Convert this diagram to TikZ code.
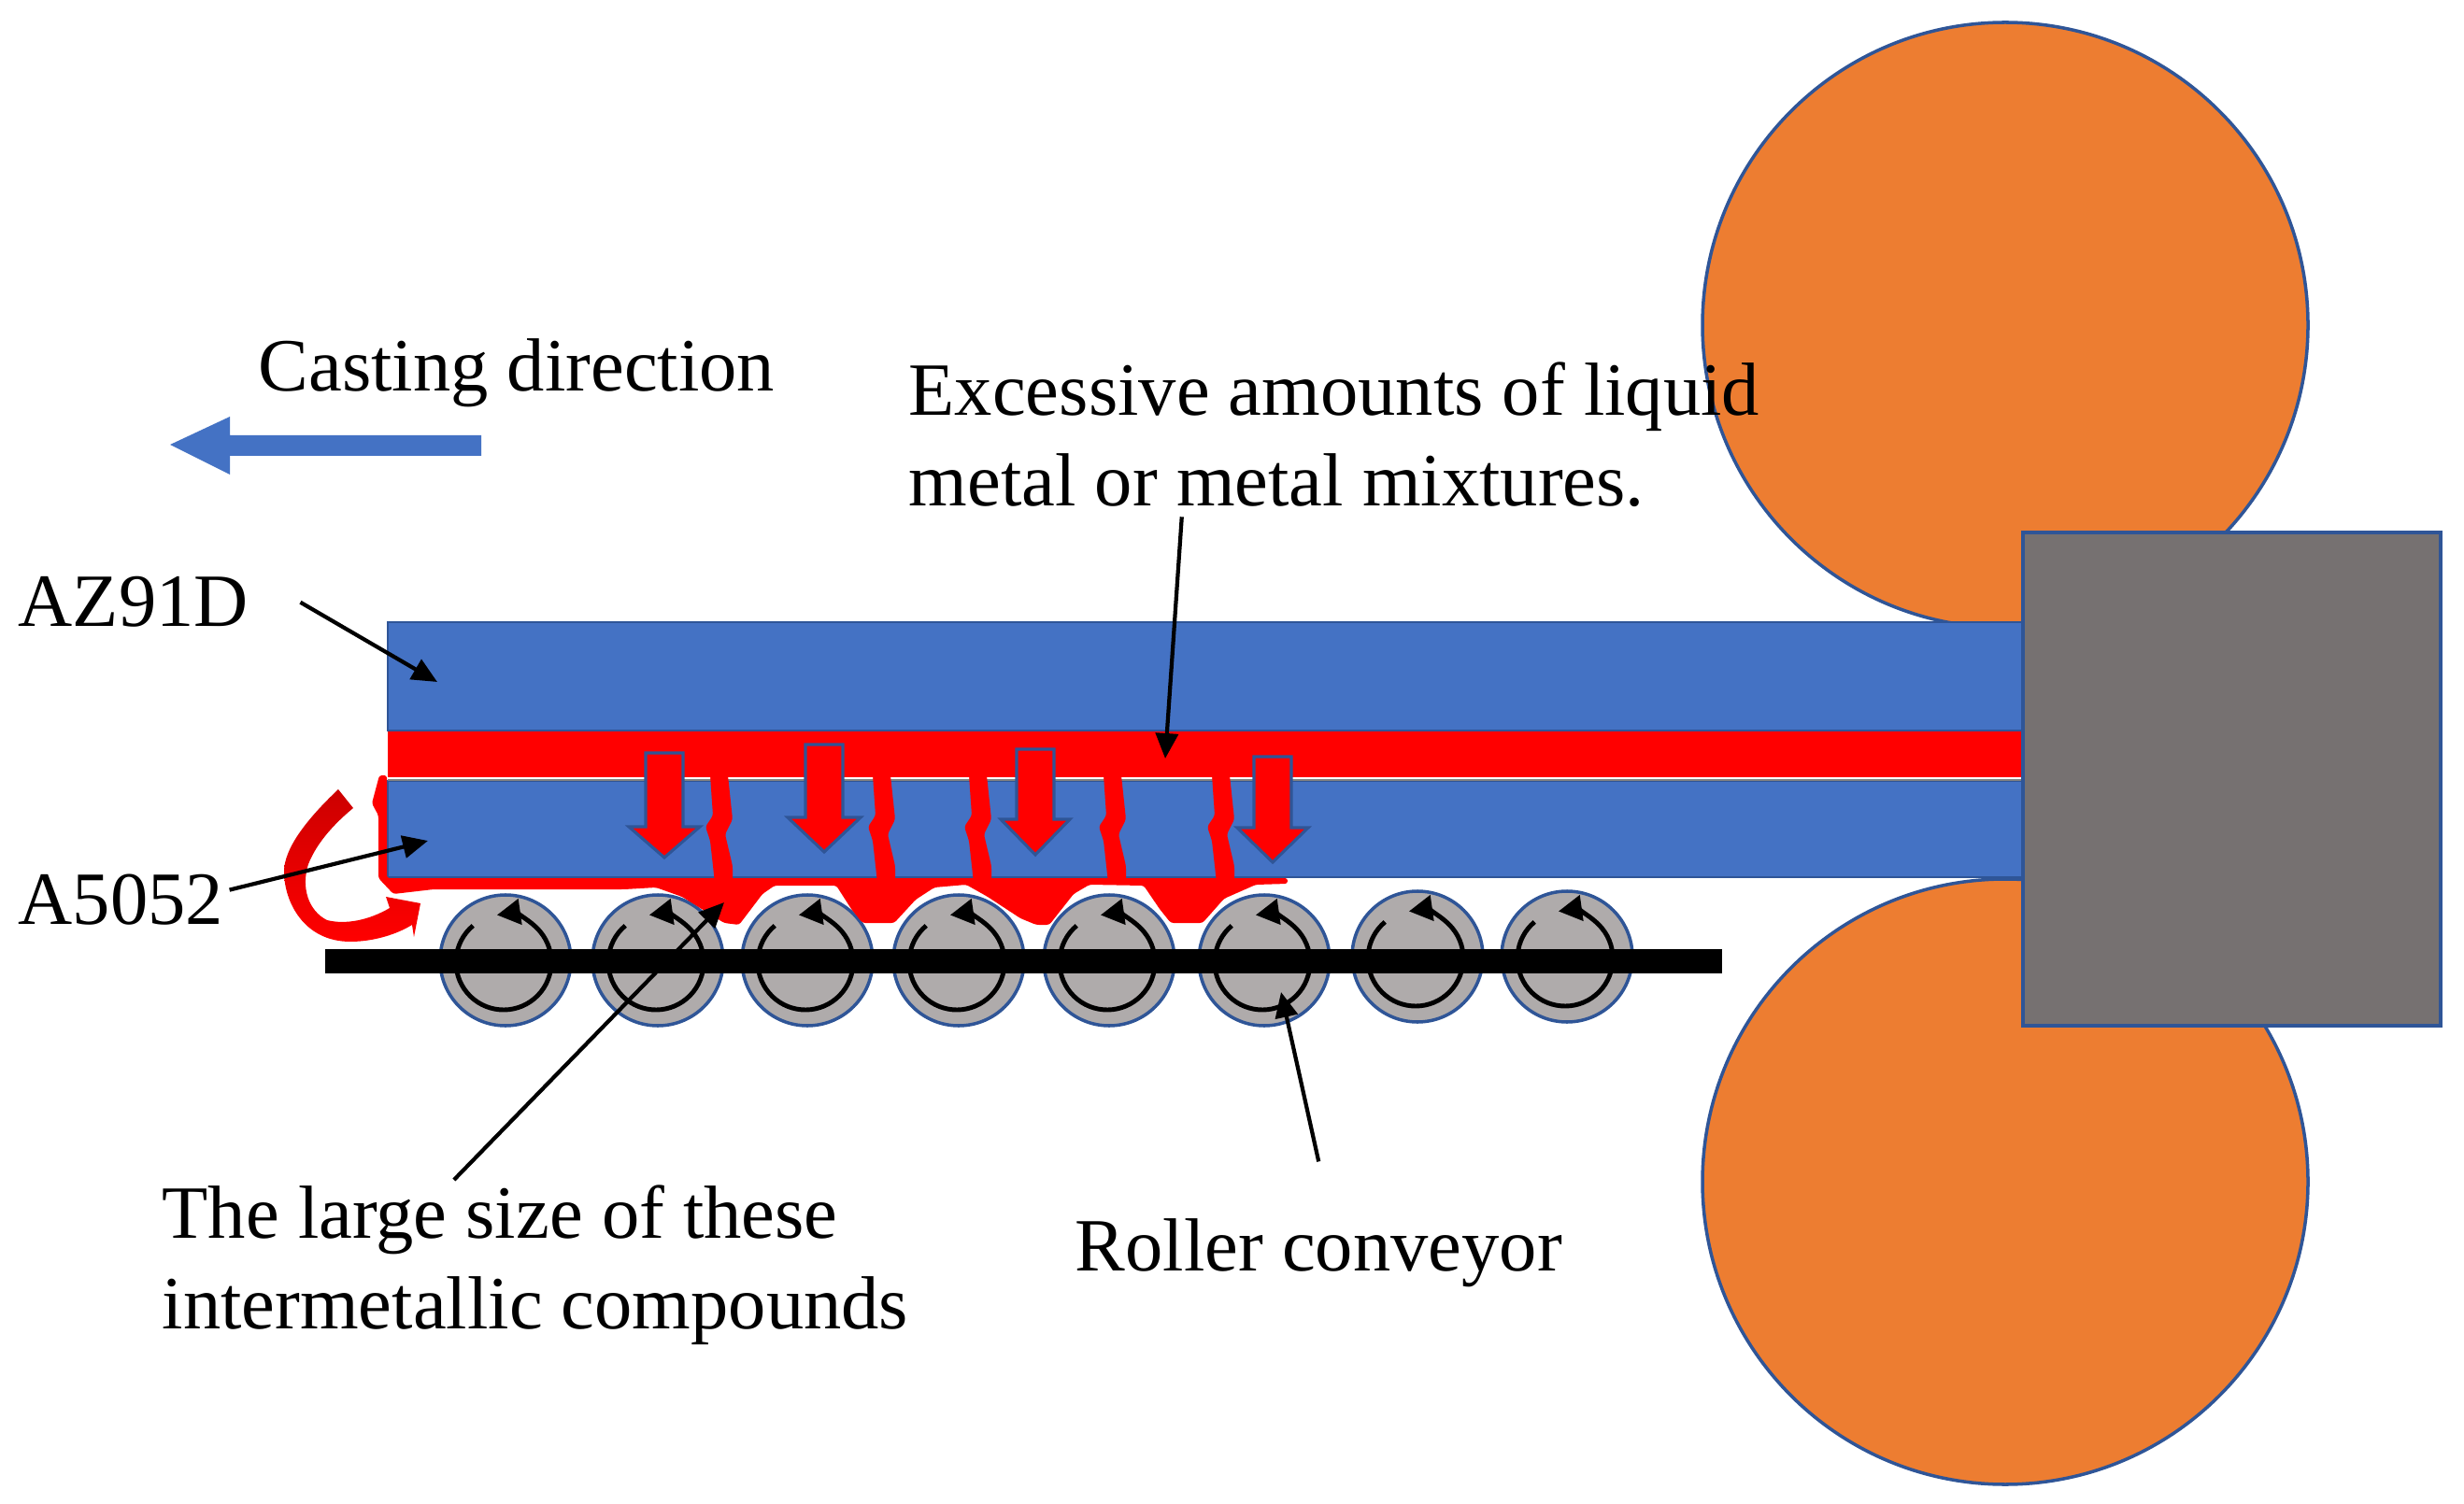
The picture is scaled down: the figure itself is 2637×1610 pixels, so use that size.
\documentclass[tikz,border=0pt]{standalone}
\usepackage{fontspec}
\setmainfont{Liberation Serif}
\usetikzlibrary{arrows.meta}
\definecolor{bandblue}{HTML}{4472C4}
\definecolor{edgeblue}{HTML}{2F5597}
\definecolor{rollorange}{HTML}{ED7D31}
\definecolor{boxgrey}{HTML}{767171}
\definecolor{rollergrey}{HTML}{AFABAB}
\begin{document}
\begin{tikzpicture}[x=0.01cm,y=-0.01cm]
\tikzset{label/.style={inner sep=0pt,align=left,font=\fontsize{22.9}{27.6}\selectfont},
         pointer/.style={draw,line width=1.2pt,-{Triangle[length=.27cm,width=.24cm]}},
         turn/.style={draw,line width=1.4pt,-{Triangle[length=.25cm,width=.27cm]}},
         layer/.style={fill=bandblue,draw=edgeblue,line width=.8pt},
         melt/.style={fill=red,draw=none,rounded corners=.8pt},
         dropper/.style={fill=red,draw=edgeblue,line width=.9pt}}
    \useasboundingbox (0,0) rectangle (2637,1610);
    \fill[white] (0,0) rectangle (2637,1610);
    \foreach \cy in {348,1265}
        \draw[fill=rollorange,draw=edgeblue,line width=1pt] (2146,\cy) circle (324);
    \draw[layer] (415,666) rectangle (2165,782);
    \draw[layer] (415,836) rectangle (2165,939);
    \fill[red] (415,783) rectangle (2165,832);
    \draw[line width=.6pt,color=gray] (415,835) -- (2165,835);
    \foreach \cx/\cy in {541/1028,704/1028,864/1028,1026/1028,1187/1028,1353/1028,1517/1024,1677/1024}{
        \draw[fill=rollergrey,draw=edgeblue,line width=1pt] (\cx,\cy) circle (70);
        \draw[turn] (\cx-2,\cy+2) ++(-130:51) arc[start angle=-130,end angle=-458,radius=51];
    }
    \fill[black] (348,1016) rectangle (1843,1042);
    \foreach \ax/\at/\ah/\ab/\aw in {711/806/885/918/38,882/797/875/912/39,1108/802/877/915/37,1362/810/886/923/38}
        \draw[dropper] (\ax-20,\at) -- (\ax+20,\at) -- (\ax+20,\ah) -- (\ax+\aw,\ah) -- (\ax,\ab) -- (\ax-\aw,\ah) -- (\ax-20,\ah) -- cycle;
    \foreach \kx in {760,934,1037,1181,1297}
        \fill[melt] (\kx,830) -- (\kx+19,830) -- (\kx+24,877) -- (\kx+16,893) -- (\kx+24,927) -- (\kx+24,945)
            -- (\kx+5,945) -- (\kx,900) -- (\kx-5,885) -- (\kx+3,873) -- cycle;
    \fill[melt] (406,830) -- (414,830) -- (414,940) -- (1378,940) -- (1378,946) -- (1344,947) -- (1310,962) -- (1287,988) -- (1253,988)
        -- (1241,973) -- (1224,948) -- (1166,947) -- (1149,957) -- (1123,990) -- (1109,990) -- (1092,983) -- (1057,960) -- (1034,947)
        -- (1000,950) -- (980,963) -- (957,988) -- (923,988) -- (911,973) -- (895,948) -- (829,948) -- (816,957) -- (791,990)
        -- (775,988) -- (730,960) -- (702,950) -- (668,952) -- (464,952) -- (421,957) -- (405,940) -- (405,873) -- (398,860) -- cycle;
    \shade[top color=red!80!black,bottom color=red,draw=none] (362,845) .. controls (325,880) and (304,910) .. (304,933)
        .. controls (304,965) and (325,1008) .. (375,1008) .. controls (400,1008) and (425,1000) .. (441,990)
        -- (443,1003) -- (450,967) -- (413,960) -- (417,972) .. controls (395,985) and (370,990) .. (350,985)
        .. controls (330,975) and (322,950) .. (330,925) .. controls (340,900) and (360,880) .. (378,865) -- cycle;
    \draw[fill=boxgrey,draw=edgeblue,line width=1pt] (2165,570) rectangle (2612,1098);
    \draw[fill=bandblue,draw=none] (182,476) -- (246,446) -- (246,466) -- (515,466) -- (515,488) -- (246,488) -- (246,508) -- cycle;
    \node[label,anchor=base west] (lblcast) at (276,419) {Casting direction};
    \node[label,anchor=base west] (lblaz) at (19,671) {AZ91D};
    \node[label,anchor=base west] (lblaa) at (19,989) {A5052};
    \node[label,anchor=north west] (lblex) at (972,387) {Excessive amounts of liquid\\metal or metal mixtures.};
    \node[label,anchor=north west] (lbllarge) at (173,1268) {The large size of these\\intermetallic compounds};
    \node[label,anchor=base west] (lblroller) at (1150,1360) {Roller conveyor};
    \coordinate (tipaz) at (468,730);
    \coordinate (tipaa) at (458,900);
    \coordinate (tipex) at (1247,812);
    \coordinate (tiplarge) at (775,966);
    \coordinate (tiproller) at (1371,1062);
    \draw[pointer] ([xshift=.55cm]lblaz.east) -- (tipaz);
    \draw[pointer] ([xshift=.06cm,yshift=.1cm]lblaa.east) -- (tipaa);
    \draw[pointer] ([xshift=-1.63cm,yshift=-.1cm]lblex.south) -- (tipex);
    \draw[pointer] ([xshift=-.87cm,yshift=.05cm]lbllarge.north) -- (tiplarge);
    \draw[pointer] ([yshift=.6cm]lblroller.north) -- (tiproller);
\end{tikzpicture}
\end{document}
